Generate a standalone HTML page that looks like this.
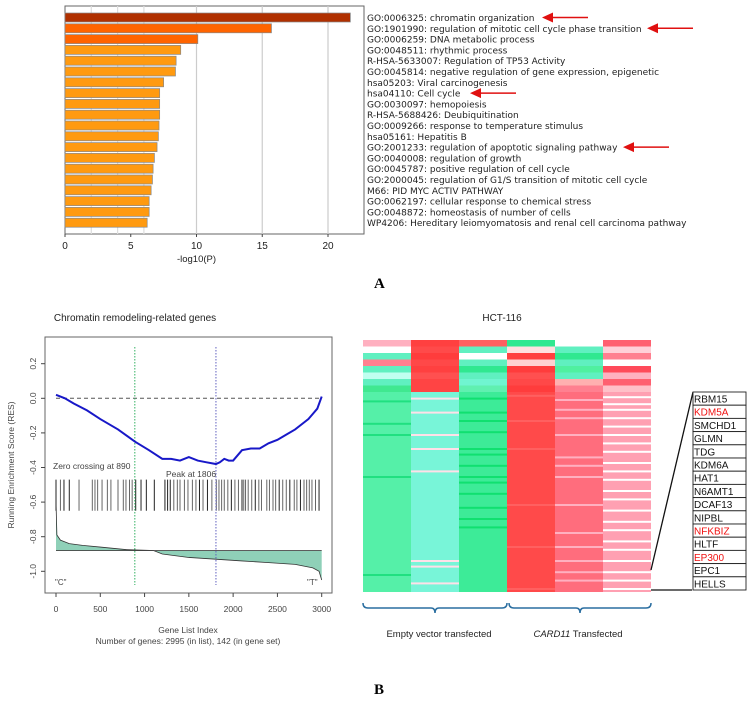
<!DOCTYPE html>
<html><head><meta charset="utf-8"><style>
html,body{margin:0;padding:0;background:#fff;}
svg{display:block;font-family:"Liberation Sans","DejaVu Sans",sans-serif;}
</style></head><body>
<svg id="fig" width="751" height="703" viewBox="0 0 751 703" xmlns="http://www.w3.org/2000/svg">
<g id="panelA"></g>
<text x="374" y="288" font-family="Liberation Serif,serif" font-weight="bold" font-size="15">A</text>
<g id="gsea"></g>
<g id="heat"></g>
<text x="374" y="694" font-family="Liberation Serif,serif" font-weight="bold" font-size="15">B</text>
</svg>
<script>
const NS="http://www.w3.org/2000/svg";
// ---- Panel A data ----
const terms=["GO:0006325: chromatin organization","GO:1901990: regulation of mitotic cell cycle phase transition","GO:0006259: DNA metabolic process","GO:0048511: rhythmic process","R-HSA-5633007: Regulation of TP53 Activity","GO:0045814: negative regulation of gene expression, epigenetic","hsa05203: Viral carcinogenesis","hsa04110: Cell cycle","GO:0030097: hemopoiesis","R-HSA-5688426: Deubiquitination","GO:0009266: response to temperature stimulus","hsa05161: Hepatitis B","GO:2001233: regulation of apoptotic signaling pathway","GO:0040008: regulation of growth","GO:0045787: positive regulation of cell cycle","GO:2000045: regulation of G1/S transition of mitotic cell cycle","M66: PID MYC ACTIV PATHWAY","GO:0062197: cellular response to chemical stress","GO:0048872: homeostasis of number of cells","WP4206: Hereditary leiomyomatosis and renal cell carcinoma pathway"];
const logP=[21.7,15.7,10.1,8.8,8.45,8.4,7.5,7.2,7.2,7.2,7.15,7.1,7.0,6.8,6.7,6.65,6.55,6.4,6.4,6.25];
const xTicksA=[0,5,10,15,20];
const arrowRows=[0,1,7,12];
const arrowStart=[542,647,470,623];
// ---- GSEA data ----
const resIdx=[0,100,200,350,500,700,890,1050,1200,1300,1400,1450,1500,1600,1700,1806,1850,1900,1950,2000,2100,2200,2300,2400,2500,2600,2700,2800,2850,2900,2950,3000];
const resVal=[0.02,0.0,-0.03,-0.07,-0.12,-0.18,-0.25,-0.30,-0.35,-0.35,-0.36,-0.35,-0.34,-0.36,-0.37,-0.38,-0.37,-0.35,-0.36,-0.36,-0.30,-0.29,-0.29,-0.26,-0.24,-0.21,-0.18,-0.14,-0.12,-0.09,-0.06,0.01];
const hits=[0,50,90,150,260,410,440,470,520,580,620,700,760,790,830,860,900,960,1020,1110,1230,1260,1290,1330,1370,1400,1450,1490,1540,1580,1620,1660,1710,1760,1810,1840,1870,1900,1940,1980,2020,2060,2100,2120,2140,2170,2210,2250,2290,2320,2380,2410,2450,2480,2520,2560,2600,2640,2690,2720,2760,2800,2830,2860,2890,2930,2970];
const rankIdx=[0,10,50,150,300,500,800,1100,1200,1500,1800,2100,2400,2700,2900,2970,3000];
const rankVal=[-0.6,-0.79,-0.82,-0.84,-0.85,-0.86,-0.875,-0.88,-0.90,-0.92,-0.93,-0.94,-0.95,-0.96,-0.98,-1.0,-1.05];
const yTicksG=[0.2,0.0,-0.2,-0.4,-0.6,-0.8,-1.0];
const xTicksG=[0,500,1000,1500,2000,2500,3000];
// ---- Heatmap data ----
const topBands=[
 ["#ffb0c0","#ffffff","#60f0c0","#ff8090","#60f0c0","#c0fff0","#60f0c0","#40e890"],
 ["#ff4040","#ff4a4a","#ff3c3c","#ff4848","#ff4040","#ff5050","#ff4444","#ff4444"],
 ["#ff6060","#60f0c0","#ffffff","#60f0c0","#30e890","#60f0c0","#70f5d0","#60f0b0"],
 ["#30e890","#ffe0e0","#ff4040","#ffd0d0","#ff3c3c","#ff5050","#ff4848","#ff3c3c"],
 ["#ffffff","#60f0c0","#30e890","#60f0c0","#50f0a0","#60f0c0","#ffb0b0","#ff8090"],
 ["#ff6070","#ffd0d8","#ff8090","#ffffff","#ff4a5a","#ffb0c0","#ff6070","#ffc0c8"]];
const bodyBase=["#55f0a8","#78f5d8","#3deb98","#ff4a4a","#ff6d7d","#ffa0b2"];
const bodyStripe=["#20e080","#ffe0e8","#10e070","#ff6060","#ffb0c0","#ffffff"];
const stripeRows=[[6,22,30,60,130],[4,14,30,40,56,120,124,136],[4,14,20,28,40,44,52,60,64,72,82,90,96],[2,20,40,80,110,140],[5,12,18,30,46,52,60,80,100,110,120,128,134],[3,8,12,18,24,30,36,42,50,56,62,70,76,84,92,98,106,112,120,128,134,140]];
const genes=["RBM15","KDM5A","SMCHD1","GLMN","TDG","KDM6A","HAT1","N6AMT1","DCAF13","NIPBL","NFKBIZ","HLTF","EP300","EPC1","HELLS"];
const redGenes=["KDM5A","NFKBIZ","EP300"];

function el(parent,tag,attrs,text){const e=document.createElementNS(NS,tag);for(const k in attrs)e.setAttribute(k,attrs[k]);if(text!==undefined)e.textContent=text;parent.appendChild(e);return e;}

// ---- Panel A ----
(function(){
 const g=document.getElementById('panelA');
 const x0=65,x1=364,yTop=6,yBot=234,sx=u=>x0+u*13.15;
 const rowY=i=>13+i*10.8;
 el(g,'rect',{x:x0,y:yTop,width:x1-x0,height:yBot-yTop,fill:'#fff',stroke:'#666','stroke-width':1});
 [2,4,6,10,15,20].forEach(v=>{const l=el(g,'line',{x1:sx(v),x2:sx(v),y1:yTop,y2:yBot,stroke:v<10?'#ddd':'#ccc','stroke-width':1.2});});
 logP.forEach((v,i)=>{
  const c=i===0?'#b03000':(i<3?'#ff6400':'#ff9a10');
  const r=el(g,'rect',{x:x0,y:rowY(i),width:sx(v)-x0,height:9,fill:c,stroke:'#888','stroke-width':0.7});
  
  
  const t=el(g,'text',{x:367,y:rowY(i)+8,'font-size':9,fill:'#222','font-family':'DejaVu Sans,sans-serif'},terms[i]);
  
  
 });
 xTicksA.forEach(v=>{
  el(g,'line',{x1:sx(v),x2:sx(v),y1:yBot,y2:yBot+3,stroke:'#444'});
  const t=el(g,'text',{x:sx(v),y:249,'font-size':10,'text-anchor':'middle',fill:'#222'},String(v));
  
  
 });
 const xl=el(g,'text',{x:sx(10),y:262,'font-size':9.5,'text-anchor':'middle',fill:'#222'},'-log10(P)');
 
 
 arrowRows.forEach((r,i)=>{
  const y=rowY(r)+4.5;
  const a=el(g,'g',{});
  
  
  el(a,'line',{x1:arrowStart[i]+8,x2:arrowStart[i]+46,y1:y,y2:y,stroke:'#e01010','stroke-width':1.5});
  el(a,'polygon',{points:`${arrowStart[i]},${y} ${arrowStart[i]+11},${y-5} ${arrowStart[i]+11},${y+5}`,fill:'#e01010'});
 });
})();

// ---- GSEA ----
(function(){
 const g=document.getElementById('gsea');
 const fx0=45,fx1=332,fy0=337,fy1=593;
 const sx=i=>56+i*(321.7-56)/3000, sy=v=>398.3-v*173;
 const t=el(g,'text',{x:135,y:321,'font-size':10,'text-anchor':'middle',fill:'#222'},'Chromatin remodeling-related genes');
 
 el(g,'rect',{x:fx0,y:fy0,width:fx1-fx0,height:fy1-fy0,fill:'none',stroke:'#666','stroke-width':1});
 let d=`M${sx(0)},${sy(-0.88)}`;rankIdx.forEach((k,i)=>d+=` L${sx(k)},${sy(rankVal[i])}`);d+=` L${sx(3000)},${sy(-0.88)} Z`;
 const rf=el(g,'path',{d:d,fill:'#8fd0b8',stroke:'none'});
 let d2='';rankIdx.forEach((k,i)=>d2+=(i?' L':'M')+sx(k)+','+sy(rankVal[i]));
 el(g,'path',{d:d2,fill:'none',stroke:'#333','stroke-width':0.8});
 el(g,'line',{x1:sx(0),x2:sx(3000),y1:sy(-0.88),y2:sy(-0.88),stroke:'#444','stroke-width':0.8});
 el(g,'line',{x1:sx(0),x2:sx(3000),y1:sy(0),y2:sy(0),stroke:'#555','stroke-dasharray':'4,3'});
 hits.forEach(h=>{const l=el(g,'line',{x1:sx(h),x2:sx(h),y1:sy(-0.47),y2:sy(-0.65),stroke:h%3===0?'#222':'#666','stroke-width':1});});
 el(g,'line',{x1:sx(890),x2:sx(890),y1:fy0+10,y2:fy1-8,stroke:'#30b060','stroke-dasharray':'1.5,1.5'});
 el(g,'line',{x1:sx(1806),x2:sx(1806),y1:fy0+10,y2:fy1-8,stroke:'#6060c0','stroke-dasharray':'1.5,1.5'});
 let d3='';resIdx.forEach((k,i)=>d3+=(i?' L':'M')+sx(k)+','+sy(resVal[i]));
 const rl=el(g,'path',{d:d3,fill:'none',stroke:'#1818c8','stroke-width':2});
 el(g,'text',{x:53,y:469,'font-size':8.5,fill:'#444'},'Zero crossing at 890');
 el(g,'text',{x:166,y:477,'font-size':8.5,fill:'#444'},'Peak at 1806');
 el(g,'text',{x:55,y:585,'font-size':8,fill:'#444'},'"C"');
 el(g,'text',{x:307,y:585,'font-size':8,fill:'#444'},'"T"');
 yTicksG.forEach(v=>{
  el(g,'line',{x1:fx0,x2:fx0-4,y1:sy(v),y2:sy(v),stroke:'#444'});
  const tt=el(g,'text',{x:0,y:0,'font-size':8.5,'text-anchor':'middle',fill:'#444',transform:`translate(36,${sy(v)}) rotate(-90)`},v.toFixed(1));
  
 });
 xTicksG.forEach(v=>{
  el(g,'line',{x1:sx(v),x2:sx(v),y1:fy1,y2:fy1+4,stroke:'#444'});
  const tt=el(g,'text',{x:sx(v),y:612,'font-size':8.5,'text-anchor':'middle',fill:'#444'},String(v));
  
 });
 const yl=el(g,'text',{x:0,y:0,'font-size':8.5,'text-anchor':'middle',fill:'#444',transform:'translate(14,465) rotate(-90)'},'Running Enrichment Score (RES)');
 
 const xl=el(g,'text',{x:188,y:633,'font-size':8.5,'text-anchor':'middle',fill:'#444'},'Gene List Index');
 
 el(g,'text',{x:188,y:644,'font-size':8.5,'text-anchor':'middle',fill:'#444'},'Number of genes: 2995 (in list), 142 (in gene set)');
})();

// ---- Heatmap ----
(function(){
 const g=document.getElementById('heat');
 const hx0=363,hy0=340,hy1=592,cw=48,topH=52;
 const t=el(g,'text',{x:502,y:321,'font-size':10,'text-anchor':'middle',fill:'#222'},'HCT-116');
 
 for(let c=0;c<6;c++){
  const x=hx0+c*cw;
  const bh=topH/topBands[c].length;
  topBands[c].forEach((col,i)=>{const r=el(g,'rect',{x:x,y:hy0+i*bh,width:cw,height:bh+0.3,fill:col});});
  const b=el(g,'rect',{x:x,y:hy0+topH,width:cw,height:hy1-hy0-topH,fill:bodyBase[c]});
  
  stripeRows[c].forEach(r=>{const s=el(g,'rect',{x:x,y:hy0+topH+r*1.4,width:cw,height:2,fill:bodyStripe[c]});});
 }
 el(g,'line',{x1:651,y1:570,x2:693,y2:392,stroke:'#111','stroke-width':1.3});
 el(g,'line',{x1:651,y1:590,x2:692,y2:590,stroke:'#111','stroke-width':1.3});
 const rh=13.2;
 genes.forEach((n,i)=>{
  el(g,'rect',{x:693,y:392+i*rh,width:53,height:rh,fill:'#fff',stroke:'#222','stroke-width':0.9});
  const tt=el(g,'text',{x:694,y:392+i*rh+10.5,'font-size':10,fill:redGenes.includes(n)?'#f01010':'#111'},n);
  
 });
 const bc='#2a6ea0';
 [[363,507],[509,651]].forEach(([a,b],i)=>{
  const m=(a+b)/2;
  const p=el(g,'path',{d:`M${a},603 Q${a},608 ${a+5},608 L${m-4},608 Q${m},608 ${m},613 Q${m},608 ${m+4},608 L${b-5},608 Q${b},608 ${b},603`,fill:'none',stroke:bc,'stroke-width':1.5});
  
 });
 const l1=el(g,'text',{x:439,y:637,'font-size':9.5,'text-anchor':'middle',fill:'#222'},'Empty vector transfected');
 
 const l2=el(g,'text',{x:578,y:637,'font-size':9.5,'text-anchor':'middle',fill:'#222'});
 
 el(l2,'tspan',{'font-style':'italic'},'CARD11');
 el(l2,'tspan',{},' Transfected');
})();
</script>
</body></html>
